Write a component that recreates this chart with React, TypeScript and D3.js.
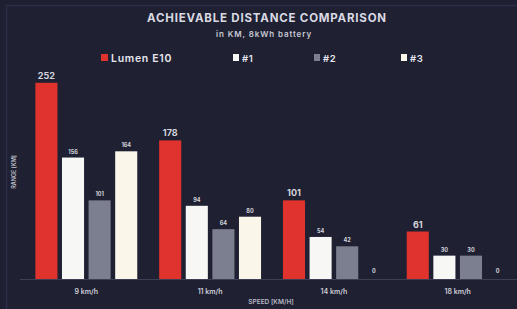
import React from "react";
import * as d3 from "d3";

const speeds = ["9 km/h", "11 km/h", "14 km/h", "18 km/h"];
const seriesNames = ["Lumen E10", "#1", "#2", "#3"];
const lumenE10 = [252, 178, 101, 61];
const model1 = [156, 94, 54, 30];
const model2 = [101, 64, 42, 30];
const model3 = [164, 80, 0, 0];
const seriesColors = ["#e0332e", "#f7f7f5", "#7c7f90", "#fbf6ea"];
const yMax = 280;

const W = 517;
const H = 309;

export default function App() {
  const series = [lumenE10, model1, model2, model3];
  const x0 = d3.scaleBand<string>().domain(speeds).range([23, 521]).paddingInner(0.177).paddingOuter(0.1);
  const x1 = d3.scaleBand<string>().domain(seriesNames).range([0, x0.bandwidth()]).paddingInner(0.17);
  const y = d3.scaleLinear().domain([0, yMax]).range([279, 61]);
  const font = "Inter, 'DejaVu Sans', sans-serif";
  const legendX = [101, 233, 314, 401];

  return (
    <svg width={W} height={H} style={{ position: "absolute", left: 0, top: 0, display: "block" }}>
      <rect x={0} y={0} width={W} height={H} fill="#1e1f30" />
      <rect x={6.5} y={5.5} width={W} height={H} fill="#1f2133" stroke="#2c2e48" strokeWidth={1.5} />
      <text x={267} y={22} textAnchor="middle" fill="#d9d9e2" fontFamily={font} fontWeight={700} fontSize={11.5} letterSpacing={0.8}>
        ACHIEVABLE DISTANCE COMPARISON
      </text>
      <text x={264} y={37} textAnchor="middle" fill="#c9c9d4" fontFamily={font} fontWeight={600} fontSize={8} letterSpacing={0.9}>
        in KM, 8kWh battery
      </text>
      {seriesNames.map((n, i) => (
        <g key={n} transform={`translate(${legendX[i]},0)`}>
          <rect x={0} y={54} width={i === 0 ? 7 : 6} height={7} fill={seriesColors[i]} />
          <text x={i === 0 ? 10 : 9} y={61.5} fill="#e6e6ee" fontFamily={font} fontWeight={600} fontSize={i === 0 ? 10.5 : 9.5} letterSpacing={0.7}>
            {n}
          </text>
        </g>
      ))}
      <line x1={20} x2={W} y1={y(0) + 0.5} y2={y(0) + 0.5} stroke="#3d3f55" strokeWidth={1} />
      {speeds.map((s, gi) => (
        <g key={s} transform={`translate(${x0(s)},0)`}>
          {series.map((vals, si) => {
            const v = vals[gi];
            const bx = x1(seriesNames[si])!;
            const bw = x1.bandwidth();
            const big = si === 0;
            return (
              <g key={si}>
                {v > 0 && (
                  <rect x={bx} y={y(v)} width={bw} height={y(0) - y(v)} fill={seriesColors[si]} />
                )}
                <text
                  x={bx + bw / 2}
                  y={v > 0 ? y(v) - 4 : y(0) - 6}
                  textAnchor="middle"
                  fill="#d4d4dc"
                  fontFamily={font}
                  fontWeight={700}
                  fontSize={big ? 9 : 5.5}
                >
                  {v}
                </text>
              </g>
            );
          })}
          <text x={x0.bandwidth() / 2} y={294} textAnchor="middle" fill="#cfcfd8" fontFamily={font} fontWeight={600} fontSize={7}>
            {s}
          </text>
        </g>
      ))}
      <text x={271} y={304} textAnchor="middle" fill="#b8b8c4" fontFamily={font} fontWeight={600} fontSize={6.5}>
        SPEED [KM/H]
      </text>
      <text
        transform={`translate(16,172) rotate(-90)`}
        textAnchor="middle"
        fill="#c4c4cf"
        fontFamily={font}
        fontWeight={600}
        fontSize={5.5}
      >
        RANGE [KM]
      </text>
    </svg>
  );
}
